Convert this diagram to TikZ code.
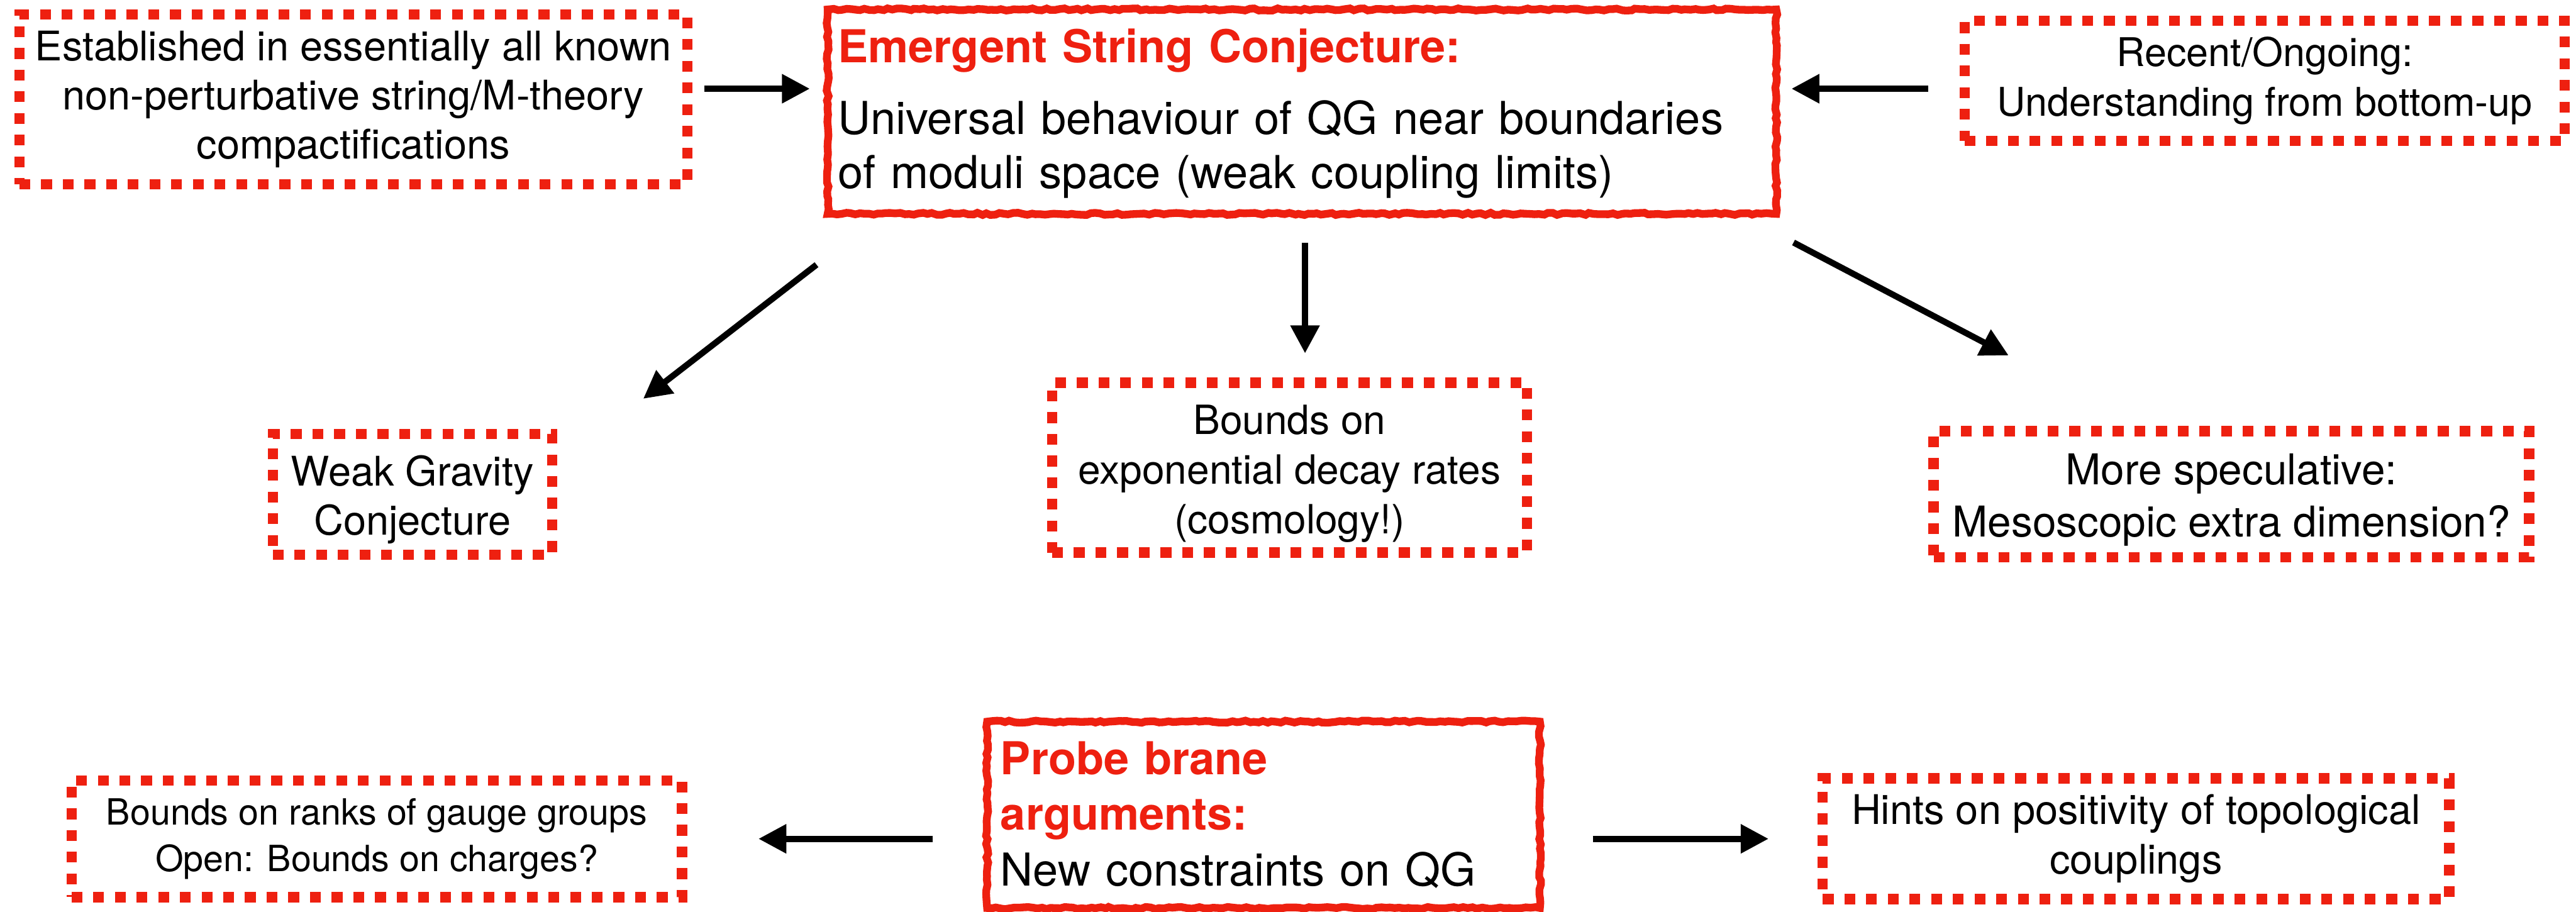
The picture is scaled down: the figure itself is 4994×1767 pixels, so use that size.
\documentclass[tikz,border=0pt]{standalone}
\usepackage{fontspec}
\setmainfont{TeX Gyre Heros}
\usetikzlibrary{arrows.meta,calc,decorations.pathmorphing}
\definecolor{boxred}{RGB}{238,32,16}
\newcommand\myfs[2]{\fontsize{#1}{#2}\selectfont}
\begin{document}
\begin{tikzpicture}[x=0.01cm,y=-0.01cm,
  dbox/.style={draw=boxred, line width=0.2cm, dash pattern=on 0.21cm off 0.21cm, align=center, inner sep=0pt},
  sbox/.style={draw=boxred, line width=0.15cm, inner sep=0pt, align=left,
    decorate, decoration={random steps, segment length=2.5pt, amplitude=0.6pt}},
  arr/.style={line width=0.12cm, -{Triangle[length=0.54cm,width=0.54cm]}}]
\pgfmathsetseed{7}
\useasboundingbox (0,0) rectangle (4994,1767);

\node[dbox, minimum width=12.94cm, minimum height=3.29cm, font=\myfs{22.5}{27}] (est) at (685,192.5)
  {Established in essentially all known\\non-perturbative string/M-theory\\compactifications};
\node[sbox, minimum width=18.38cm, minimum height=3.96cm, text width=17.98cm, font=\myfs{25}{29.9}] (main) at (2524,216.5)
  {\rule{0pt}{0.72cm}\textcolor{boxred}{\bfseries Emergent String Conjecture:}\\[9.6pt]Universal behaviour of QG near boundaries\\of moduli space (weak coupling limits)};
\node[dbox, minimum width=11.63cm, minimum height=2.33cm, font=\myfs{21.8}{27.3}] (recent) at (4390.5,156.5)
  {Recent/Ongoing:\\Understanding from bottom-up};
\node[dbox, minimum width=5.41cm, minimum height=2.34cm, font=\myfs{22.5}{27.3}] (weak) at (799.5,958)
  {\rule{0pt}{0.8cm}Weak Gravity\\Conjecture};
\node[dbox, minimum width=9.2cm, minimum height=3.29cm, font=\myfs{22.2}{27.3}] (bounds) at (2500,906.5)
  {\rule{0pt}{0.8cm}Bounds on\\exponential decay rates\\(cosmology!)};
\node[dbox, minimum width=11.54cm, minimum height=2.44cm, font=\myfs{23.4}{28.7}] (spec) at (4326,958)
  {\rule{0pt}{0.82cm}More speculative:\\Mesoscopic extra dimension?};
\node[dbox, minimum width=11.83cm, minimum height=2.26cm, font=\myfs{19.9}{25.6}] (ranks) at (730.5,1626)
  {Bounds on ranks of gauge groups\\Open: Bounds on charges?};
\node[sbox, minimum width=10.71cm, minimum height=3.61cm, text width=10.19cm, font=\myfs{25}{30.7}] (probe) at (2449.5,1579.5)
  {\textcolor{boxred}{\bfseries Probe brane}\\\textcolor{boxred}{\bfseries arguments:}\\New constraints on QG};
\node[dbox, minimum width=12.14cm, minimum height=2.34cm, font=\myfs{22.5}{27.3}] (hints) at (4141,1626)
  {Hints on positivity of topological\\couplings};

\draw[arr, shorten <=0.23cm, shorten >=0.27cm] (est.east |- 0,172) -- (main.west |- 0,172);
\draw[arr, shorten <=0.61cm, shorten >=0.22cm] (recent.west |- 0,172) -- (main.east |- 0,172);
\draw[arr] ([shift={(-14,91)}]main.south west) -- ([shift={(447.5,-58)}]weak.north);
\draw[arr] ([shift={(6,49)}]main.south) -- ([shift={(30,-47)}]bounds.north);
\draw[arr] ([shift={(26,48)}]main.south east) -- ([shift={(-432,-137)}]spec.north);
\draw[arr, shorten <=0.98cm, shorten >=1.38cm] (probe.west |- ranks.east) -- (ranks.east);
\draw[arr, shorten <=0.95cm, shorten >=0.95cm] (probe.east |- hints.west) -- (hints.west);
\end{tikzpicture}
\end{document}
